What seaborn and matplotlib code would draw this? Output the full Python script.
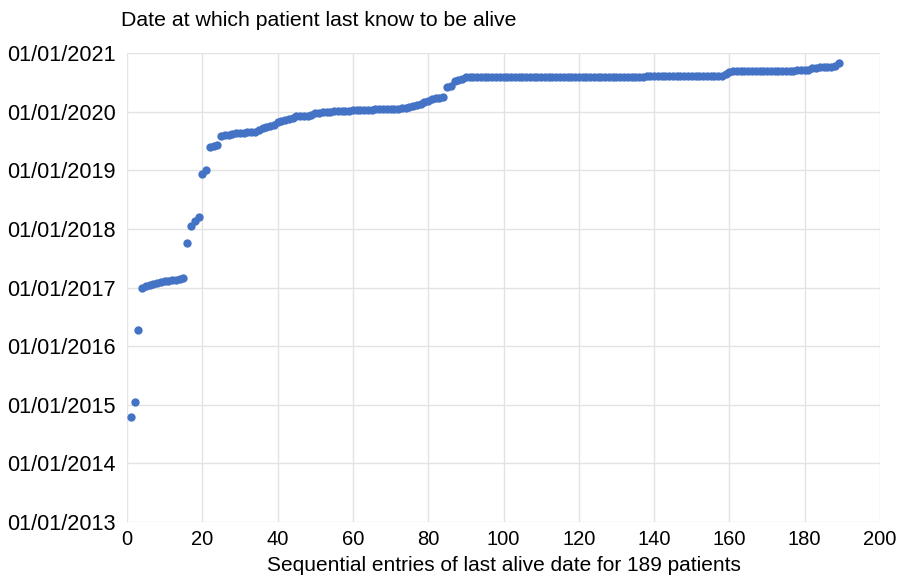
import numpy as np
import pandas as pd
import seaborn as sns
import matplotlib.pyplot as plt
import matplotlib.dates as mdates

# last alive date per patient, in decimal years, sorted
last_alive_year = [
    2014.79, 2015.04, 2016.27,
    2016.99, 2017.02, 2017.04, 2017.06, 2017.08, 2017.10, 2017.11, 2017.11, 2017.12, 2017.13, 2017.15, 2017.16,
    2017.76, 2018.05, 2018.13, 2018.21,
    2018.93, 2019.00,
    2019.40, 2019.42, 2019.44,
    2019.59, 2019.60, 2019.61, 2019.62, 2019.63, 2019.64, 2019.64, 2019.65, 2019.65, 2019.65,
    2019.68, 2019.72, 2019.74, 2019.75, 2019.77,
    2019.82, 2019.84, 2019.86, 2019.88, 2019.90,
    2019.92, 2019.92, 2019.93, 2019.93, 2019.94,
    2019.97, 2019.98, 2019.99, 2019.99, 2020.00, 2020.01, 2020.01,
    2020.02, 2020.02, 2020.02, 2020.03, 2020.03, 2020.03, 2020.03, 2020.03,
    2020.03, 2020.04, 2020.04, 2020.04, 2020.04, 2020.05, 2020.05, 2020.05,
    2020.06, 2020.07, 2020.08, 2020.10, 2020.12, 2020.14, 2020.16, 2020.18,
    2020.21, 2020.23, 2020.24, 2020.25,
    2020.42, 2020.44,
    2020.52, 2020.54, 2020.56,
    2020.59, 2020.59, 2020.59, 2020.59, 2020.59, 2020.59, 2020.59, 2020.59,
    2020.59, 2020.59, 2020.59, 2020.59, 2020.59, 2020.59, 2020.59, 2020.59,
    2020.59, 2020.59, 2020.59, 2020.59, 2020.59, 2020.59, 2020.59, 2020.59,
    2020.60, 2020.60, 2020.60, 2020.60, 2020.60, 2020.60, 2020.60, 2020.60,
    2020.60, 2020.60, 2020.60, 2020.60, 2020.60, 2020.60, 2020.60, 2020.60,
    2020.60, 2020.60, 2020.60, 2020.60, 2020.60, 2020.60, 2020.60, 2020.60,
    2020.61, 2020.61, 2020.61, 2020.61, 2020.61, 2020.61, 2020.61, 2020.61,
    2020.61, 2020.61, 2020.61, 2020.61, 2020.61, 2020.61, 2020.61, 2020.61,
    2020.61, 2020.61, 2020.61, 2020.61, 2020.61,
    2020.65, 2020.68, 2020.69,
    2020.70, 2020.70, 2020.70, 2020.70, 2020.70, 2020.70, 2020.70, 2020.70,
    2020.70, 2020.70, 2020.70, 2020.70, 2020.70, 2020.70, 2020.70, 2020.70,
    2020.71, 2020.71, 2020.71, 2020.71,
    2020.74, 2020.75, 2020.76, 2020.77, 2020.77, 2020.77,
    2020.78, 2020.83,
]
entry = list(range(1, len(last_alive_year) + 1))
year_ticks = list(range(2013, 2022))


def to_date(y):
    yr = int(np.floor(y))
    return pd.Timestamp(yr, 1, 1) + pd.Timedelta(days=(y - yr) * 365.25)


df = pd.DataFrame({"entry": entry,
                   "date": [to_date(y) for y in last_alive_year]})

sns.set_style("whitegrid")
plt.rcParams['font.family'] = ['Liberation Sans', 'DejaVu Sans']
plt.rcParams['text.color'] = 'black'
plt.rcParams['axes.labelcolor'] = 'black'
plt.rcParams['xtick.color'] = 'black'
plt.rcParams['ytick.color'] = 'black'

fig = plt.figure(figsize=(8.98, 5.79), dpi=100)
ax = fig.add_axes([0.1414, 0.0984, 0.8386, 0.8101])

sns.scatterplot(data=df, x="entry", y="date", color="#4472C4", s=36,
                linewidth=0, ax=ax)

ax.set_xlim(0, 200)
ax.set_xticks(range(0, 201, 20))
ax.set_ylim(pd.Timestamp(2013, 1, 1), pd.Timestamp(2021, 1, 1))
ax.set_yticks([pd.Timestamp(y, 1, 1) for y in year_ticks])
ax.yaxis.set_major_formatter(mdates.DateFormatter('%d/%m/%Y'))

ax.grid(True, color="#E3E3E3", linewidth=1)
for sp in ax.spines.values():
    sp.set_visible(False)
ax.tick_params(axis='y', labelsize=15.6, pad=8, length=0)
ax.tick_params(axis='x', labelsize=14.5, pad=6, length=0)

ax.set_xlabel("Sequential entries of last alive date for 189 patients",
              fontsize=15, labelpad=5)
ax.set_ylabel("")
fig.text(0.135, 0.965, "Date at which patient last know to be alive",
         fontsize=15.3, va="center", ha="left")

fig.savefig("out.png", dpi=100)
